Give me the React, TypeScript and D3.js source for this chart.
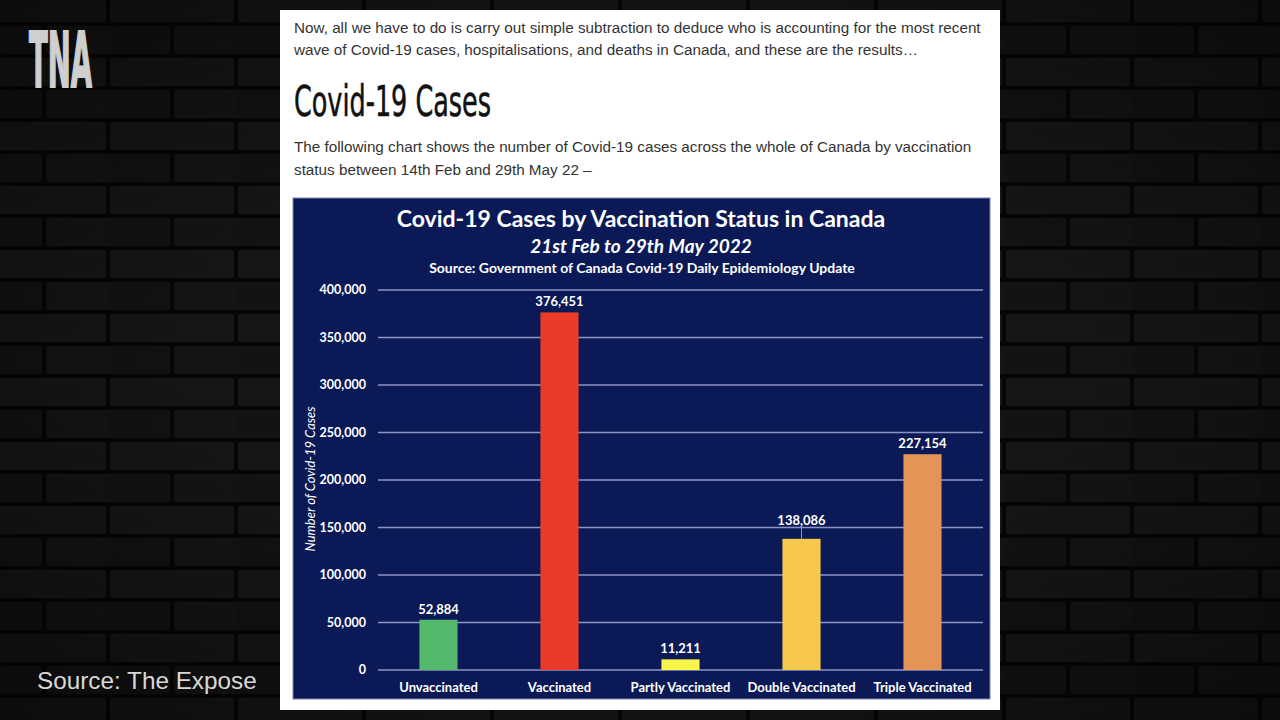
import React from "react";
import * as d3 from "d3";

const categories = ["Unvaccinated", "Vaccinated", "Partly Vaccinated", "Double Vaccinated", "Triple Vaccinated"];
const cases = [52884, 376451, 11211, 138086, 227154];
const barColors = ["#55b96d", "#e93b27", "#f8f64a", "#f6c84b", "#e49456"];
const yTicks = [0, 50000, 100000, 150000, 200000, 250000, 300000, 350000, 400000];

const chartTitle = "Covid-19 Cases by Vaccination Status in Canada";
const chartSubtitle = "21st Feb to 29th May 2022";
const chartSource = "Source: Government of Canada Covid-19 Daily Epidemiology Update";
const yTitle = "Number of Covid-19 Cases";

const introLines = [
  "Now, all we have to do is carry out simple subtraction to deduce who is accounting for the most recent",
  "wave of Covid-19 cases, hospitalisations, and deaths in Canada, and these are the results…",
];
const heading = "Covid-19 Cases";
const descLines = [
  "The following chart shows the number of Covid-19 cases across the whole of Canada by vaccination",
  "status between 14th Feb and 29th May 22 –",
];

const W = 1280;
const H = 720;
const chartFont = "Lato, 'Open Sans', sans-serif";
const pageFont = "'Liberation Sans', Arial, sans-serif";

export default function App() {
  const x = d3.scaleBand<string>().domain(categories).range([378, 983]).paddingInner(0.685).paddingOuter(0.3425);
  const y = d3.scaleLinear().domain([0, 400000]).range([670, 290]);
  const fmt = d3.format(",");

  return (
    <svg width={W} height={H} style={{ position: "absolute", left: 0, top: 0, display: "block" }}>
      <defs>
        <pattern id="bricks" width="128" height="64" patternUnits="userSpaceOnUse" x="-20" y="-8">
          <rect width="128" height="64" fill="#070707" />
          <rect x="2" y="2" width="124" height="28" rx="3" fill="#191919" />
          <rect x="-62" y="34" width="124" height="28" rx="3" fill="#151515" />
          <rect x="66" y="34" width="124" height="28" rx="3" fill="#171717" />
        </pattern>
        <radialGradient id="vig" cx="0.5" cy="0.5" r="0.75">
          <stop offset="0.4" stopColor="#000" stopOpacity="0.1" />
          <stop offset="1" stopColor="#000" stopOpacity="0.55" />
        </radialGradient>
      </defs>
      <rect width={W} height={H} fill="url(#bricks)" />
      <rect width={W} height={H} fill="url(#vig)" />

      {/* logo */}
      <text x={29} y={87} fill="#cfcfcf" stroke="#cfcfcf" strokeWidth={2.2} strokeLinejoin="miter" fontFamily="'DejaVu Sans', sans-serif" fontWeight="bold" fontSize={77} textLength={63} lengthAdjust="spacingAndGlyphs">TNA</text>
      <text x={37} y={689} fill="#d8d8d8" fontFamily="'Liberation Sans', Arial, sans-serif" fontSize={24.3}>Source: The Expose</text>

      {/* page panel */}
      <rect x={280} y={10} width={720} height={700} fill="#ffffff" />
      {introLines.map((l, i) => (
        <text key={i} x={294} y={33 + i * 22} fill="#333" fontFamily={pageFont} fontSize={15.25}>{l}</text>
      ))}
      <text x={294} y={116} fill="#111" stroke="#111" strokeWidth={0.6} fontFamily="'DejaVu Sans', sans-serif" fontSize={43} textLength={197} lengthAdjust="spacingAndGlyphs">{heading}</text>
      {descLines.map((l, i) => (
        <text key={i} x={294} y={152 + i * 23} fill="#333" fontFamily={pageFont} fontSize={15.25}>{l}</text>
      ))}

      {/* chart */}
      <rect x={293} y={198} width={697} height={501} fill="#0b1a56" stroke="#7d82b0" strokeWidth={1} />
      <text x={641} y={227} textAnchor="middle" fill="#fff" fontFamily={chartFont} fontWeight="bold" fontSize={23}>{chartTitle}</text>
      <text x={641} y={253} textAnchor="middle" fill="#fff" fontFamily={chartFont} fontWeight="bold" fontStyle="italic" fontSize={19}>{chartSubtitle}</text>
      <text x={642} y={273} textAnchor="middle" fill="#fff" fontFamily={chartFont} fontWeight="bold" fontSize={14}>{chartSource}</text>

      {yTicks.map((t) => (
        <g key={t}>
          <line x1={378} x2={983} y1={y(t)} y2={y(t)} stroke="#8e93c6" strokeWidth={1.5} />
          <text x={366} y={y(t) + 4} textAnchor="end" fill="#fff" fontFamily={chartFont} fontWeight="bold" fontSize={12.5}>{fmt(t)}</text>
        </g>
      ))}
      <text transform={`translate(315 ${479}) rotate(-90)`} textAnchor="middle" fill="#fff" fontFamily={chartFont} fontStyle="italic" fontSize={13}>{yTitle}</text>

      {categories.map((c, i) => {
        const bx = x(c)!;
        const bw = x.bandwidth();
        const top = y(cases[i]);
        const lead = i === 3;
        const ly = lead ? top - 14 : top - 6;
        return (
          <g key={c}>
            <rect x={bx} y={top} width={bw} height={y(0) - top} fill={barColors[i]} />
            {lead && <line x1={bx + bw / 2} x2={bx + bw / 2} y1={ly + 3} y2={top} stroke="#8e93c6" strokeWidth={1} />}
            <text x={bx + bw / 2} y={ly} textAnchor="middle" fill="#fff" fontFamily={chartFont} fontWeight="bold" fontSize={13}>{fmt(cases[i])}</text>
            <text x={bx + bw / 2} y={692} textAnchor="middle" fill="#fff" fontFamily={chartFont} fontWeight="bold" fontSize={13}>{c}</text>
          </g>
        );
      })}
    </svg>
  );
}
